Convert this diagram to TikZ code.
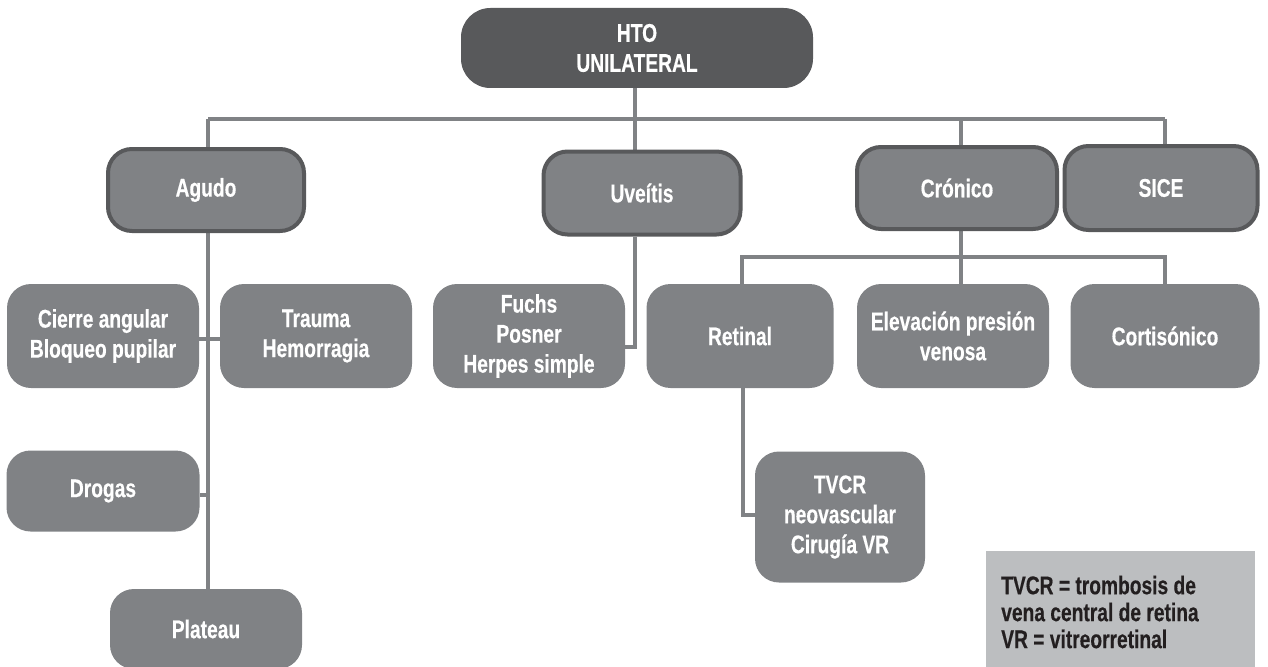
\documentclass[tikz,border=0pt]{standalone}
\usepackage{fontspec}
\setmainfont{Liberation Sans}[FakeStretch=0.75, BoldFeatures={FakeBold=0.4}]
\usetikzlibrary{backgrounds}
\definecolor{dkgray}{HTML}{58595B}
\definecolor{mdgray}{HTML}{808285}
\definecolor{ltgray}{HTML}{BCBEC0}
\definecolor{txtdark}{HTML}{231F20}
\tikzset{
  sz/.style 2 args={minimum width=#1*0.75pt, minimum height=#2*0.75pt},
  basebox/.style={rounded corners=18pt, inner sep=0pt, align=center, text=white,
    font=\bfseries\fontsize{19.2}{22.5}\selectfont},
  topbox/.style={basebox, fill=dkgray, rounded corners=22pt},
  lvlone/.style={basebox, fill=mdgray, draw=dkgray, line width=3pt},
  lvltwo/.style={basebox, fill=mdgray},
  legendbox/.style={fill=ltgray, inner sep=0pt, text=txtdark, align=left,
    font=\bfseries\fontsize{19.2}{20.2}\selectfont},
  conn/.style={draw=mdgray, line width=3.7pt}
}
\begin{document}
\begin{tikzpicture}[x=0.75pt,y=-0.75pt]
\useasboundingbox (0,0) rectangle (1268,667);
% top
\node[topbox, sz={352}{80}] (top) at (637,48) {HTO\\UNILATERAL};
% level one
\node[lvlone, sz={196}{82}] (agudo) at (206,190) {Agudo};
\node[lvlone, sz={197}{83}] (uveitis) at (642,193) {Uveítis};
\node[lvlone, sz={200}{82}] (cronico) at (957,188) {Crónico};
\node[lvlone, sz={193}{84}] (sice) at (1161,188) {SICE};
% level two
\node[lvltwo, sz={192}{104}] (cierre) at (103,336) {Cierre angular\\Bloqueo pupilar};
\node[lvltwo, sz={192}{104}] (trauma) at (316,336) {Trauma\\Hemorragia};
\node[lvltwo, sz={192}{104}] (fuchs) at (529,336) {Fuchs\\Posner\\Herpes simple};
\node[lvltwo, sz={187}{104}] (retinal) at (740,336) {Retinal};
\node[lvltwo, sz={192}{104}] (elev) at (953,336) {Elevación presión\\venosa};
\node[lvltwo, sz={189}{104}] (cort) at (1165,336) {Cortisónico};
\node[lvltwo, sz={193}{81}] (drogas) at (103,491) {Drogas};
\node[lvltwo, sz={192}{80}] (plateau) at (206,629) {Plateau};
\node[lvltwo, sz={170}{131}] (tvcr) at (840,517) {TVCR\\neovascular\\Cirugía VR};
% legend
\node[legendbox, sz={269}{116}] (legend) at (1120.5,609) {};
\node[legendbox, fill=none, anchor=west] (legtext) at (1001,612) {TVCR = trombosis de\\vena central de retina\\VR = vitreorretinal};
% connectors
\coordinate (b1) at (208,119);
\coordinate (b4) at (1165,119);
\coordinate (u1) at (635,347);
\coordinate (c1) at (742,257);
\coordinate (c2) at (1165,257);
\coordinate (cx) at (961,257);
\coordinate (r1) at (743,515);
\begin{scope}[on background layer]
\draw[conn] (top.south -| u1) -- (uveitis.north -| u1);
\draw[conn] (b1) -- (b4);
\draw[conn] (b1) -- (agudo.north -| b1);
\draw[conn] (cronico.north -| cx) -- (cx |- b1);
\draw[conn] (b4) -- (sice.north -| b4);
\draw[conn] (agudo.south -| b1) -- (plateau.north -| b1);
\draw[conn] ([yshift=-2.25pt]cierre.east) -- ([yshift=-2.25pt]trauma.west);
\draw[conn] ([yshift=-3pt]drogas.east) -- ([yshift=-3pt]drogas.east -| b1);
\draw[conn] (uveitis.south -| u1) -- (u1) -- (u1 -| fuchs.east);
\draw[conn] (cronico.south -| cx) -- (elev.north -| cx);
\draw[conn] (retinal.north -| c1) -- (c1) -- (c2) -- (cort.north -| c2);
\draw[conn] (retinal.south -| r1) -- (r1) -- (r1 -| tvcr.west);
\end{scope}
\end{tikzpicture}
\end{document}
